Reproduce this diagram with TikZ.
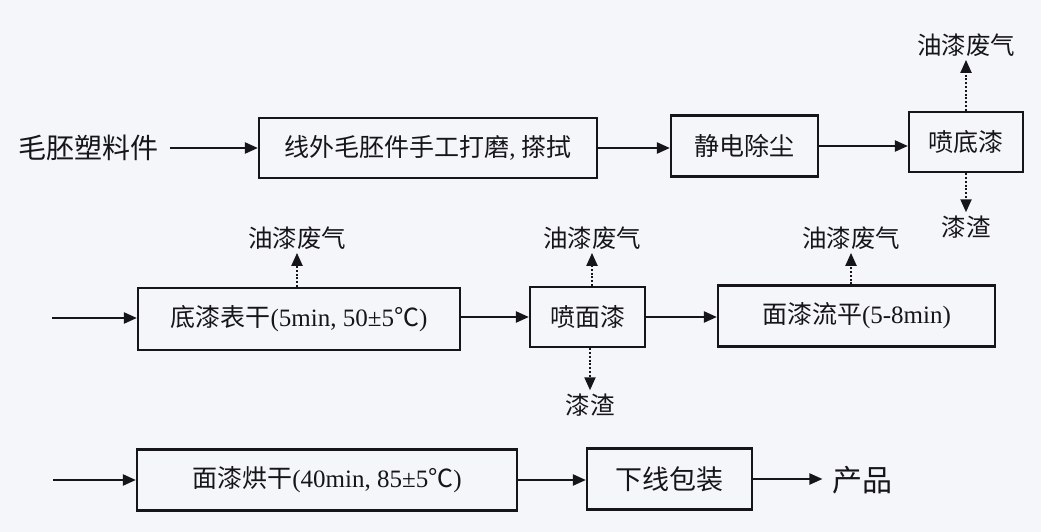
\documentclass[tikz,border=0pt]{standalone}
\usepackage{fontspec}
\setmainfont{Liberation Serif}
\newfontfamily\cjk{Noto Sans CJK SC}
\usetikzlibrary{arrows.meta}
\definecolor{bg}{RGB}{245,246,250}
\definecolor{ink}{RGB}{22,22,26}
\newcommand\latn[1]{{\rmfamily #1}}
\begin{document}
\begin{tikzpicture}[x=1pt,y=-1pt,
  box/.style={draw=ink,line width=2.2pt,minimum height=60pt,inner sep=0pt,
    font=\fontsize{25}{30}\cjk,text=ink},
  flow/.style={draw=ink,line width=2.2pt,-{Triangle[length=13pt,width=11pt]}},
  emis/.style={draw=ink,line width=2.2pt,dash pattern=on 2pt off 1.8pt,
    -{Triangle[length=13pt,width=11pt]}},
  lab/.style={font=\fontsize{24.5}{28}\cjk,text=ink}]
\fill[bg] (0,0) rectangle (1041,532);
\useasboundingbox (0,0) rectangle (1041,532);

% row 1
\node[lab,font=\fontsize{28}{30}\cjk] (src) at (88,148) {毛胚塑料件};
\node[box,minimum width=338pt] (b1) at (428,148) {线外毛胚件手工打磨\latn{, }搽拭};
\node[box,minimum width=147pt,minimum height=61pt] (b2) at (744.5,146) {静电除尘};
\node[box,minimum width=114pt] (b3) at (966,142) {喷底漆};
\node[lab] (g1) at (966,45) {油漆废气};
\node[lab] (s1) at (966,227) {漆渣};
\draw[flow,shorten <=8pt] (src.east) -- (src.east -| b1.west);
\draw[flow] (b1.east) -- (b1.east -| b2.west);
\draw[flow] (b2.east) -- (b2.east -| b3.west);
\draw[emis] (b3.north) -- (g1.south);
\draw[emis] (b3.south) -- (s1.north);

% row 2
\coordinate (in2) at (52,318);
\node[box,minimum width=322pt,minimum height=62pt] (b4) at (299,319) {底漆表干\latn{(5min, 50±5}℃\latn{)}};
\node[box,minimum width=115pt] (b5) at (587.5,317) {喷面漆};
\node[box,minimum width=277pt,minimum height=61pt] (b6) at (856.5,316) {面漆流平\latn{(5-8min)}};
\node[lab] (g2) at (297,238) {油漆废气};
\node[lab] (g3) at (592,238) {油漆废气};
\node[lab] (g4) at (851,238) {油漆废气};
\node[lab] (s2) at (590,405) {漆渣};
\draw[flow] (in2) -- (in2 -| b4.west);
\draw[flow] (b4.east |- b5.west) -- (b5.west);
\draw[flow] (b5.east) -- (b5.east -| b6.west);
\draw[emis] (b4.north -| g2) -- (g2.south);
\draw[emis] (b5.north -| g3) -- (g3.south);
\draw[emis] (b6.north -| g4) -- (g4.south);
\draw[emis] (b5.south -| s2) -- (s2.north);

% row 3
\coordinate (in3) at (53,480);
\node[box,minimum width=380pt,minimum height=61pt] (b7) at (327,480) {面漆烘干\latn{(40min, 85±5}℃\latn{)}};
\node[box,minimum width=165pt,minimum height=61pt,font=\fontsize{27}{30}\cjk] (b8) at (669.5,479) {下线包装};
\node[lab,font=\fontsize{30}{32}\cjk] (prod) at (862,480) {产品};
\draw[flow] (in3) -- (in3 -| b7.west);
\draw[flow] (b7.east) -- (b7.east -| b8.west);
\draw[flow,shorten >=6pt] (b8.east) -- (b8.east -| prod.west);
\end{tikzpicture}
\end{document}
